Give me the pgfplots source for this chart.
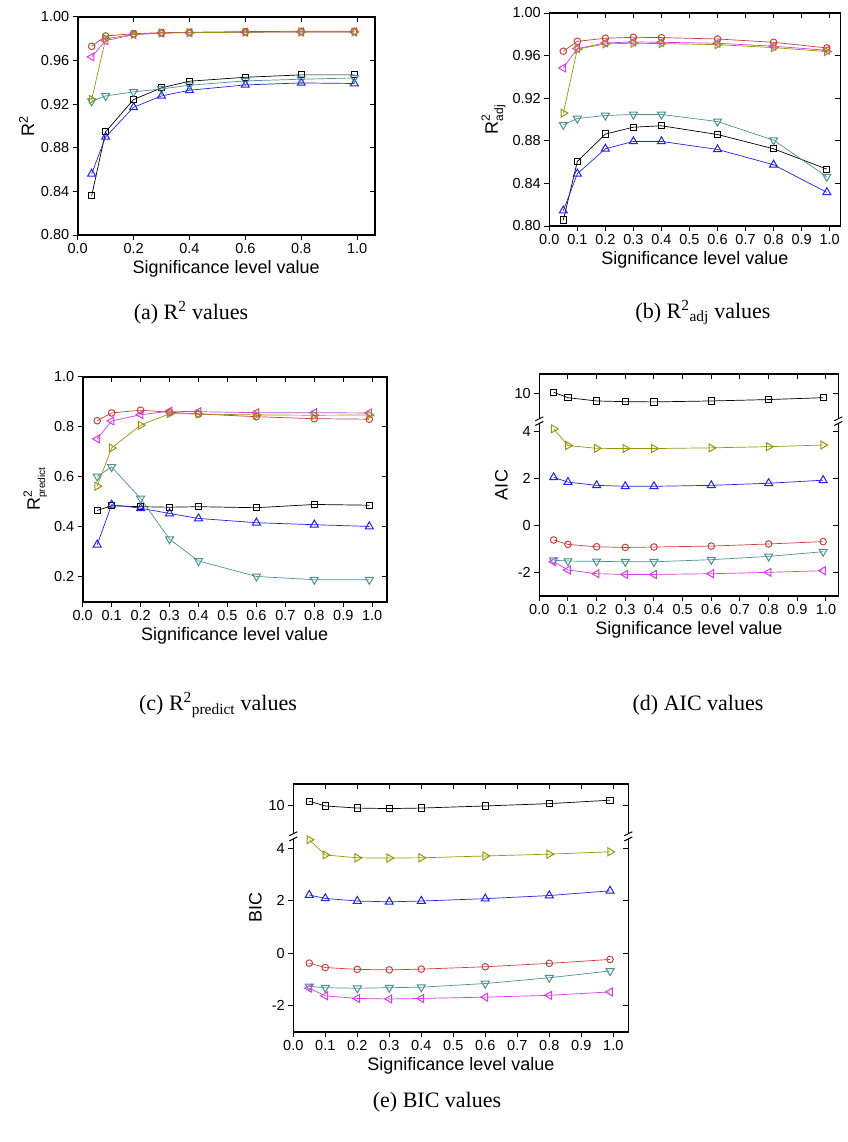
\documentclass[border=0pt]{standalone}
\usepackage{pgfplots}
\pgfplotsset{compat=1.18}
\usepackage{fontspec}
\setmainfont{Liberation Sans}
\newfontfamily\capfont{Liberation Serif}
\definecolor{cred}{RGB}{200,65,65}
\definecolor{cblue}{RGB}{35,35,230}
\definecolor{cteal}{RGB}{75,145,145}
\definecolor{colive}{RGB}{150,150,10}
\definecolor{cmag}{RGB}{215,60,230}
\pgfplotsset{
  common/.style={scale only axis, clip=false,
    axis line style={line width=1.6pt},
    tick style={line width=1pt, black},
    major tick length=5pt,
    tick align=outside, xtick pos=bottom, ytick pos=left,
    /pgf/number format/assume math mode=true,
    ticklabel style={font=\fontsize{14.5}{16}\selectfont},
    label style={font=\fontsize{18}{20}\selectfont},
    xlabel={Significance level value},
    xticklabel style={/pgf/number format/.cd,fixed,fixed zerofill,precision=1},
    every axis plot/.append style={line width=0.7pt},
  },
  mirror/.style={tick align=inside, xtick pos=top, ytick pos=right,
    xticklabels={}, yticklabels={}, xlabel={}, ylabel={}},
  sblack/.style={color=black, mark=square, mark size=3.1pt, mark options={solid,line width=1pt}},
  sred/.style={color=cred, mark=o, mark size=3.3pt, mark options={solid,line width=1pt}},
  sblue/.style={color=cblue, mark=triangle, mark size=4.6pt, mark options={solid,line width=1pt}},
  steal/.style={color=cteal, mark=triangle, mark size=4.6pt, mark options={solid,line width=1pt,rotate=180}},
  solive/.style={color=colive, mark=triangle, mark size=4.6pt, mark options={solid,line width=1pt,rotate=-90}},
  smag/.style={color=cmag, mark=triangle, mark size=4.6pt, mark options={solid,line width=1pt,rotate=90}},
  pA/.style={at={(77.7pt,-235pt)}, anchor=south west, width=297pt, height=218pt,
    xmin=0, xmax=1.063, ymin=0.80, ymax=1.00,
    xtick={0,0.2,...,1.0}, ytick={0.80,0.84,...,1.00},
    yticklabel style={/pgf/number format/.cd,fixed,fixed zerofill,precision=2}},
  pB/.style={at={(549.3pt,-226pt)}, anchor=south west, width=291pt, height=213pt,
    xmin=0, xmax=1.038, ymin=0.80, ymax=1.00,
    xtick={0,0.1,...,1.0}, ytick={0.80,0.84,...,1.00},
    yticklabel style={/pgf/number format/.cd,fixed,fixed zerofill,precision=2}},
  pC/.style={at={(82.7pt,-601.7pt)}, anchor=south west, width=304pt, height=225pt,
    xmin=0, xmax=1.05, ymin=0.1, ymax=1.0,
    xtick={0,0.1,...,1.0}, ytick={0.2,0.4,...,1.0},
    yticklabel style={/pgf/number format/.cd,fixed,fixed zerofill,precision=1}},
  pD/.style={at={(539.3pt,-596pt)}, anchor=south west, width=299pt, height=222pt,
    xmin=0, xmax=1.043, ymin=-3, ymax=6.47,
    xtick={0,0.1,...,1.0}, ytick={-2,0,2,4,5.65}, yticklabels={-2,0,2,4,10}},
  pE/.style={at={(293.3pt,-1031.7pt)}, anchor=south west, width=335pt, height=248pt,
    xmin=0, xmax=1.047, ymin=-3, ymax=6.47,
    xtick={0,0.1,...,1.0}, ytick={-2,0,2,4,5.65}, yticklabels={-2,0,2,4,10}},
}
\newcommand{\brk}[1]{%
  \fill[white] ([xshift=-2pt]axis cs:0,4.36) rectangle ([xshift=2pt]axis cs:0,4.56);
  \fill[white] ([xshift=-2pt]axis cs:#1,4.36) rectangle ([xshift=2pt]axis cs:#1,4.56);
  \draw[black,line width=1pt] ([xshift=-4pt,yshift=-2pt]axis cs:0,4.36) -- ([xshift=4pt,yshift=2pt]axis cs:0,4.36);
  \draw[black,line width=1pt] ([xshift=-4pt,yshift=-2pt]axis cs:0,4.56) -- ([xshift=4pt,yshift=2pt]axis cs:0,4.56);
  \draw[black,line width=1pt] ([xshift=-4pt,yshift=-2pt]axis cs:#1,4.36) -- ([xshift=4pt,yshift=2pt]axis cs:#1,4.36);
  \draw[black,line width=1pt] ([xshift=-4pt,yshift=-2pt]axis cs:#1,4.56) -- ([xshift=4pt,yshift=2pt]axis cs:#1,4.56);
}
\begin{document}
\begin{tikzpicture}
\path (0pt,0pt) rectangle (842pt,-1142pt);

% ---------- (a) ----------
\begin{axis}[common, pA, mirror]\end{axis}
\begin{axis}[common, pA, ylabel={R\textsuperscript{2}}]
\addplot[sblack] coordinates {(0.05,0.836)(0.1,0.8947)(0.2,0.9243)(0.3,0.935)(0.4,0.9411)(0.6,0.9447)(0.8,0.9469)(0.99,0.9469)};
\addplot[sblue] coordinates {(0.05,0.8562)(0.1,0.890)(0.2,0.9172)(0.3,0.9276)(0.4,0.9328)(0.6,0.9377)(0.8,0.9395)(0.99,0.939)};
\addplot[steal] coordinates {(0.05,0.9227)(0.1,0.9276)(0.2,0.9313)(0.3,0.934)(0.4,0.9374)(0.6,0.9414)(0.8,0.9429)(0.99,0.9441)};
\addplot[smag] coordinates {(0.05,0.9634)(0.1,0.9783)(0.2,0.9838)(0.3,0.9853)(0.4,0.9856)(0.6,0.986)(0.8,0.9863)(0.99,0.9863)};
\addplot[sred] coordinates {(0.05,0.9731)(0.1,0.9826)(0.2,0.9847)(0.3,0.9856)(0.4,0.986)(0.6,0.9866)(0.8,0.9869)(0.99,0.9869)};
\addplot[solive] coordinates {(0.05,0.9243)(0.1,0.980)(0.2,0.984)(0.3,0.9853)(0.4,0.9856)(0.6,0.986)(0.8,0.9863)(0.99,0.9863)};
\end{axis}

% ---------- (b) ----------
\begin{axis}[common, pB, mirror]\end{axis}
\begin{axis}[common, pB, ylabel={R\rlap{\raisebox{0.85ex}{\fontsize{12}{12}\selectfont 2}}\raisebox{-0.55ex}{\fontsize{12}{12}\selectfont adj}}]
\addplot[sblack] coordinates {(0.05,0.8056)(0.1,0.8606)(0.2,0.8863)(0.3,0.8928)(0.4,0.8941)(0.6,0.8859)(0.8,0.8725)(0.99,0.8534)};
\addplot[sblue] coordinates {(0.05,0.8144)(0.1,0.8491)(0.2,0.8725)(0.3,0.8794)(0.4,0.8794)(0.6,0.8719)(0.8,0.8575)(0.99,0.8316)};
\addplot[steal] coordinates {(0.05,0.895)(0.1,0.9009)(0.2,0.9038)(0.3,0.9047)(0.4,0.9047)(0.6,0.8981)(0.8,0.8806)(0.99,0.8463)};
\addplot[smag] coordinates {(0.05,0.9484)(0.1,0.9666)(0.2,0.9719)(0.3,0.9728)(0.4,0.9725)(0.6,0.9716)(0.8,0.9688)(0.99,0.965)};
\addplot[sred] coordinates {(0.05,0.9641)(0.1,0.9734)(0.2,0.9763)(0.3,0.9772)(0.4,0.9769)(0.6,0.9756)(0.8,0.9725)(0.99,0.9672)};
\addplot[solive] coordinates {(0.05,0.906)(0.1,0.966)(0.2,0.971)(0.3,0.9716)(0.4,0.9713)(0.6,0.9703)(0.8,0.9675)(0.99,0.9638)};
\end{axis}

% ---------- (c) ----------
\begin{axis}[common, pC, mirror]\end{axis}
\begin{axis}[common, pC, ylabel={R\rlap{\raisebox{0.85ex}{\fontsize{12}{12}\selectfont 2}}\raisebox{-0.55ex}{\fontsize{10}{10}\selectfont predict}}]
\addplot[sblack] coordinates {(0.05,0.465)(0.1,0.484)(0.2,0.480)(0.3,0.478)(0.4,0.480)(0.6,0.476)(0.8,0.489)(0.99,0.486)};
\addplot[sblue] coordinates {(0.05,0.328)(0.1,0.488)(0.2,0.474)(0.3,0.453)(0.4,0.433)(0.6,0.416)(0.8,0.408)(0.99,0.401)};
\addplot[steal] coordinates {(0.05,0.601)(0.1,0.639)(0.2,0.513)(0.3,0.350)(0.4,0.263)(0.6,0.201)(0.8,0.188)(0.99,0.188)};
\addplot[smag] coordinates {(0.05,0.751)(0.1,0.823)(0.2,0.848)(0.3,0.862)(0.4,0.860)(0.6,0.856)(0.8,0.856)(0.99,0.855)};
\addplot[sred] coordinates {(0.05,0.824)(0.1,0.855)(0.2,0.866)(0.3,0.858)(0.4,0.851)(0.6,0.840)(0.8,0.832)(0.99,0.830)};
\addplot[solive] coordinates {(0.05,0.562)(0.1,0.715)(0.2,0.806)(0.3,0.852)(0.4,0.851)(0.6,0.847)(0.8,0.846)(0.99,0.847)};
\end{axis}

% ---------- (d) ----------
\begin{axis}[common, pD, mirror]\end{axis}
\begin{axis}[common, pD, ylabel={AIC}]
\addplot[sblack, y filter/.expression={y-4.35}] coordinates {(0.05,10.04)(0.1,9.81)(0.2,9.67)(0.3,9.64)(0.4,9.63)(0.6,9.67)(0.8,9.73)(0.99,9.81)};
\addplot[solive] coordinates {(0.05,4.13)(0.1,3.42)(0.2,3.30)(0.3,3.29)(0.4,3.29)(0.6,3.32)(0.8,3.37)(0.99,3.44)};
\addplot[sblue] coordinates {(0.05,2.06)(0.1,1.86)(0.2,1.72)(0.3,1.68)(0.4,1.68)(0.6,1.72)(0.8,1.81)(0.99,1.94)};
\addplot[sred] coordinates {(0.05,-0.61)(0.1,-0.80)(0.2,-0.90)(0.3,-0.93)(0.4,-0.91)(0.6,-0.87)(0.8,-0.78)(0.99,-0.68)};
\addplot[steal] coordinates {(0.05,-1.47)(0.1,-1.51)(0.2,-1.52)(0.3,-1.54)(0.4,-1.54)(0.6,-1.45)(0.8,-1.31)(0.99,-1.11)};
\addplot[smag] coordinates {(0.05,-1.54)(0.1,-1.89)(0.2,-2.05)(0.3,-2.08)(0.4,-2.08)(0.6,-2.05)(0.8,-1.99)(0.99,-1.92)};
\brk{1.043}
\end{axis}

% ---------- (e) ----------
\begin{axis}[common, pE, mirror]\end{axis}
\begin{axis}[common, pE, ylabel={BIC}]
\addplot[sblack, y filter/.expression={y-4.35}] coordinates {(0.05,10.15)(0.1,9.97)(0.2,9.89)(0.3,9.87)(0.4,9.89)(0.6,9.97)(0.8,10.06)(0.99,10.19)};
\addplot[solive] coordinates {(0.05,4.33)(0.1,3.75)(0.2,3.64)(0.3,3.63)(0.4,3.64)(0.6,3.71)(0.8,3.78)(0.99,3.87)};
\addplot[sblue] coordinates {(0.05,2.22)(0.1,2.09)(0.2,1.99)(0.3,1.96)(0.4,1.99)(0.6,2.08)(0.8,2.20)(0.99,2.38)};
\addplot[sred] coordinates {(0.05,-0.38)(0.1,-0.55)(0.2,-0.62)(0.3,-0.64)(0.4,-0.61)(0.6,-0.52)(0.8,-0.39)(0.99,-0.24)};
\addplot[steal] coordinates {(0.05,-1.27)(0.1,-1.32)(0.2,-1.34)(0.3,-1.32)(0.4,-1.30)(0.6,-1.16)(0.8,-0.94)(0.99,-0.68)};
\addplot[smag] coordinates {(0.05,-1.34)(0.1,-1.63)(0.2,-1.73)(0.3,-1.75)(0.4,-1.73)(0.6,-1.68)(0.8,-1.61)(0.99,-1.48)};
\brk{1.047}
\end{axis}

% ---------- captions ----------
\node[font=\capfont\fontsize{22}{24}\selectfont] at (191pt,-313pt) {(a) R\textsuperscript{2} values};
\node[font=\capfont\fontsize{22}{24}\selectfont] at (703pt,-313pt) {(b) R\textsuperscript{2}\textsubscript{adj} values};
\node[font=\capfont\fontsize{22}{24}\selectfont] at (218pt,-705pt) {(c) R\textsuperscript{2}\textsubscript{predict} values};
\node[font=\capfont\fontsize{22}{24}\selectfont] at (698pt,-705pt) {(d) AIC values};
\node[font=\capfont\fontsize{22}{24}\selectfont] at (437pt,-1102pt) {(e) BIC values};
\end{tikzpicture}
\end{document}
